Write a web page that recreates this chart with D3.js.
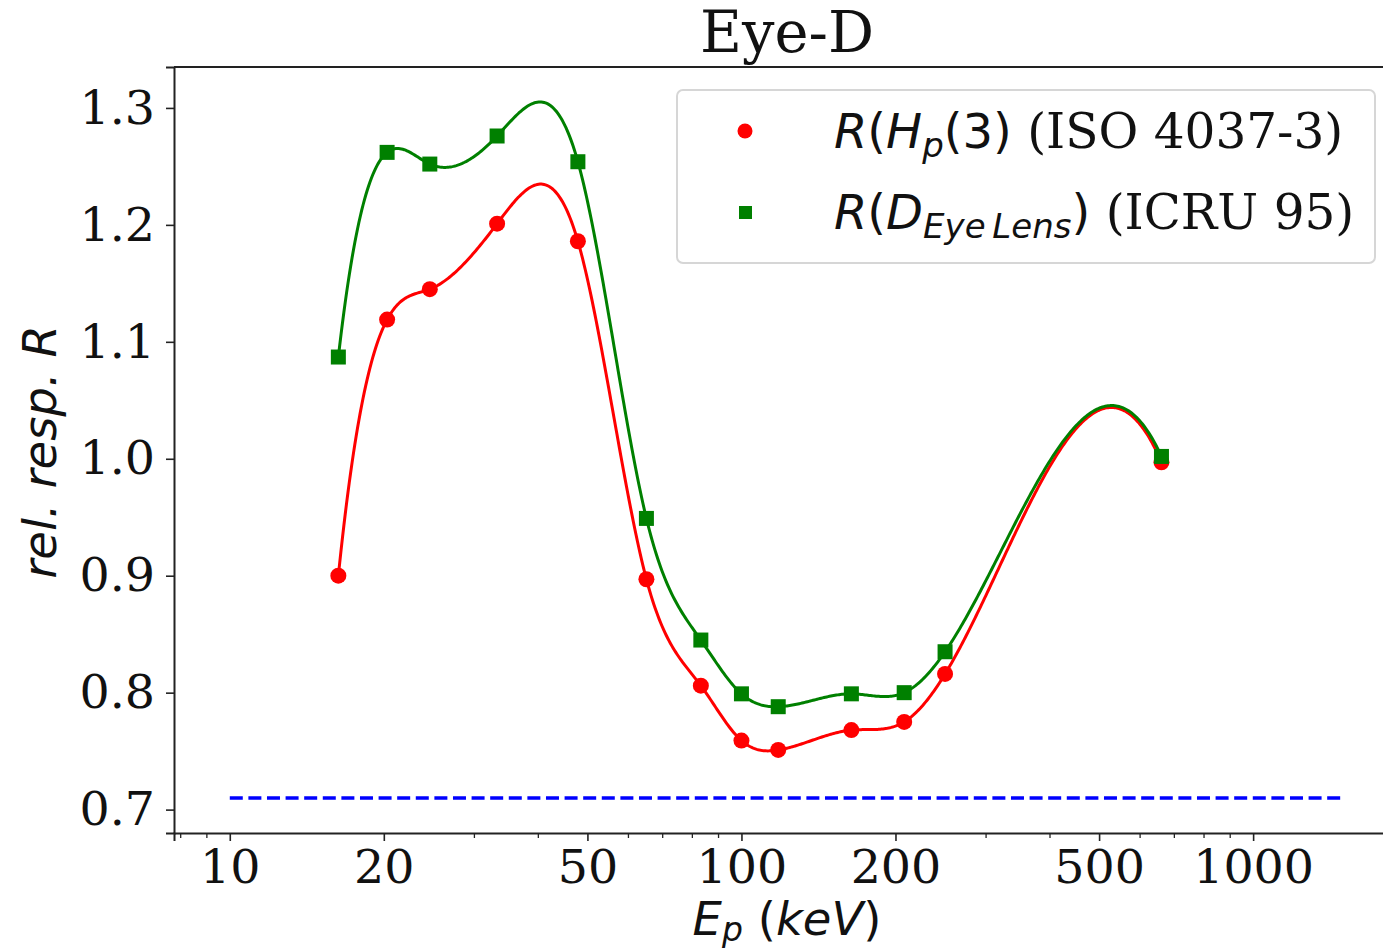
<!DOCTYPE html>
<html>
<head>
<meta charset="utf-8">
<script src="https://cdn.jsdelivr.net/npm/d3@7"></script>
<style>
html, body { margin: 0; padding: 0; background: #fff; overflow: hidden; }
svg { display: block; }
</style>
</head>
<body>
<svg id="chart" width="1383" height="951"></svg>
<script>
// ---- data ----
const energies = [16.3, 20.3, 24.6, 33.3, 47.9, 65.2, 83.3, 100, 118, 164, 208, 250, 662];
const hp3      = [0.900, 1.119, 1.145, 1.201, 1.186, 0.897, 0.806, 0.759, 0.751, 0.768, 0.775, 0.816, 0.997];
const eyeLens  = [1.087, 1.262, 1.252, 1.276, 1.254, 0.949, 0.845, 0.799, 0.788, 0.799, 0.800, 0.835, 1.002];
const refLineX = [10, 1500];
const refLineY = 0.71;
const xTickValues = [10, 20, 50, 100, 200, 500, 1000];
const yTickValues = [0.7, 0.8, 0.9, 1.0, 1.1, 1.2, 1.3];
const titleText = "Eye-D";

const svg = d3.select("#chart");
const SERIF = "'DejaVu Serif', 'Liberation Serif', serif";
const SANS = "'DejaVu Sans', 'Liberation Sans', sans-serif";

const x = d3.scaleLog().domain([7.78, 1928]).range([174, 1399]);
const y = d3.scaleLinear().domain([0.680, 1.335]).range([833, 67]);

// not-a-knot cubic spline (in log10(E) space)
function spline(xs, ys) {
  const n = xs.length;
  const h = [];
  for (let i = 0; i < n - 1; i++) h.push(xs[i + 1] - xs[i]);
  const A = Array.from({length: n}, () => new Array(n).fill(0));
  const b = new Array(n).fill(0);
  A[0][0] = -h[1]; A[0][1] = h[0] + h[1]; A[0][2] = -h[0];
  for (let i = 1; i < n - 1; i++) {
    A[i][i - 1] = h[i - 1];
    A[i][i] = 2 * (h[i - 1] + h[i]);
    A[i][i + 1] = h[i];
    b[i] = 6 * ((ys[i + 1] - ys[i]) / h[i] - (ys[i] - ys[i - 1]) / h[i - 1]);
  }
  const m = n - 1;
  A[m][m - 2] = -h[m - 1]; A[m][m - 1] = h[m - 2] + h[m - 1]; A[m][m] = -h[m - 2];
  for (let c = 0; c < n; c++) {
    let p = c;
    for (let r = c + 1; r < n; r++) if (Math.abs(A[r][c]) > Math.abs(A[p][c])) p = r;
    [A[c], A[p]] = [A[p], A[c]]; [b[c], b[p]] = [b[p], b[c]];
    for (let r = c + 1; r < n; r++) {
      const f = A[r][c] / A[c][c];
      for (let k = c; k < n; k++) A[r][k] -= f * A[c][k];
      b[r] -= f * b[c];
    }
  }
  const M = new Array(n).fill(0);
  for (let r = n - 1; r >= 0; r--) {
    let s = b[r];
    for (let k = r + 1; k < n; k++) s -= A[r][k] * M[k];
    M[r] = s / A[r][r];
  }
  return function(t) {
    let i = 0;
    while (i < n - 2 && t > xs[i + 1]) i++;
    const hi = h[i], a = xs[i + 1] - t, bb = t - xs[i];
    return M[i] * a * a * a / (6 * hi) + M[i + 1] * bb * bb * bb / (6 * hi)
      + (ys[i] / hi - M[i] * hi / 6) * a + (ys[i + 1] / hi - M[i + 1] * hi / 6) * bb;
  };
}

function curvePoints(ys) {
  const xs = energies.map(Math.log10);
  const f = spline(xs, ys);
  const pts = [];
  const N = 600;
  const u0 = xs[0], u1 = xs[xs.length - 1];
  for (let k = 0; k <= N; k++) {
    const u = u0 + (u1 - u0) * k / N;
    pts.push([x(Math.pow(10, u)), y(f(u))]);
  }
  return pts;
}

const line = d3.line();

// reference dashed line
svg.append("line")
  .attr("x1", x(refLineX[0])).attr("x2", x(refLineX[1]))
  .attr("y1", y(refLineY)).attr("y2", y(refLineY))
  .attr("stroke", "#0000ff").attr("stroke-width", 3.5)
  .attr("stroke-dasharray", "13,5.6");

const series = [
  {vals: hp3, color: "#ff0000", marker: "circle"},
  {vals: eyeLens, color: "#008000", marker: "square"}
];

series.forEach(s => {
  svg.append("path").attr("d", line(curvePoints(s.vals)))
    .attr("fill", "none").attr("stroke", s.color).attr("stroke-width", 3);
  const g = svg.append("g");
  energies.forEach((e, i) => {
    if (s.marker === "circle") {
      g.append("circle").attr("cx", x(e)).attr("cy", y(s.vals[i])).attr("r", 8).attr("fill", s.color);
    } else {
      g.append("rect").attr("x", x(e) - 7.5).attr("y", y(s.vals[i]) - 7.5)
        .attr("width", 15).attr("height", 15).attr("fill", s.color);
    }
  });
});

// axes
const xAxis = d3.axisBottom(x).tickValues(xTickValues).tickFormat(d3.format("d")).tickSize(8).tickPadding(8);
const gx = svg.append("g").attr("transform", "translate(0,833)").call(xAxis);
gx.select(".domain").attr("stroke", "#222").attr("stroke-width", 2);
gx.selectAll(".tick line").attr("stroke", "#222").attr("stroke-width", 1.6);
gx.selectAll(".tick text").attr("font-family", SERIF).attr("font-size", 47.5).attr("fill", "#111");

const minorVals = [];
[1, 10, 100, 1000].forEach(d => { for (let k = 1; k <= 9; k++) { const v = d * k; if (v >= 7.78 && v <= 1928 && !xTickValues.includes(v)) minorVals.push(v); } });
const xMinor = d3.axisBottom(x).tickValues(minorVals).tickFormat("").tickSize(5);
const gxm = svg.append("g").attr("transform", "translate(0,833)").call(xMinor);
gxm.select(".domain").remove();
gxm.selectAll(".tick line").attr("stroke", "#222").attr("stroke-width", 1.3);

const yAxis = d3.axisLeft(y).tickValues(yTickValues).tickFormat(d3.format(".1f")).tickSize(8).tickPadding(11);
const gy = svg.append("g").attr("transform", "translate(174,0)").call(yAxis);
gy.select(".domain").attr("stroke", "#222").attr("stroke-width", 2);
gy.selectAll(".tick line").attr("stroke", "#222").attr("stroke-width", 1.6);
gy.selectAll(".tick text").attr("font-family", SERIF).attr("font-size", 47.5).attr("fill", "#111");

// top spine
svg.append("line").attr("x1", 174).attr("x2", 1399).attr("y1", 67).attr("y2", 67)
  .attr("stroke", "#222").attr("stroke-width", 2);

// title
svg.append("text").attr("x", 787).attr("y", 52).attr("text-anchor", "middle")
  .attr("font-family", SERIF).attr("font-size", 57.5).attr("fill", "#111").text(titleText);

// x label
const xl = svg.append("text").attr("x", 787).attr("y", 935).attr("text-anchor", "middle")
  .attr("font-family", SANS).attr("font-size", 46.5).attr("fill", "#111");
xl.append("tspan").attr("font-style", "italic").text("E");
xl.append("tspan").attr("font-style", "italic").attr("font-size", 33).attr("dy", 6).text("p");
xl.append("tspan").attr("dy", -6).text(" (");
xl.append("tspan").attr("font-style", "italic").text("keV");
xl.append("tspan").text(")");

// y label
svg.append("text").attr("transform", "translate(56,452) rotate(-90)").attr("text-anchor", "middle")
  .attr("font-family", SANS).attr("font-size", 46.5).attr("font-style", "italic").attr("fill", "#111")
  .text("rel. resp. R");

// legend
const lg = svg.append("g");
lg.append("rect").attr("x", 677).attr("y", 90).attr("width", 698).attr("height", 173)
  .attr("rx", 6).attr("fill", "#fff").attr("fill-opacity", 0.8).attr("stroke", "#d6d6d6").attr("stroke-width", 2);
lg.append("circle").attr("cx", 745).attr("cy", 131).attr("r", 7.5).attr("fill", "#ff0000");
lg.append("rect").attr("x", 739).attr("y", 206).attr("width", 13).attr("height", 13).attr("fill", "#008000");

const t1 = lg.append("text").attr("x", 834).attr("y", 148).attr("font-size", 48).attr("fill", "#111").attr("font-family", SANS);
t1.append("tspan").attr("font-style", "italic").text("R");
t1.append("tspan").text("(");
t1.append("tspan").attr("font-style", "italic").text("H");
t1.append("tspan").attr("font-style", "italic").attr("font-size", 34).attr("dy", 9).text("p");
t1.append("tspan").attr("dy", -9).text("(3)");
t1.append("tspan").attr("font-family", SERIF).attr("font-size", 48.5).text(" (ISO 4037-3)");

const t2 = lg.append("text").attr("x", 834).attr("y", 229).attr("font-size", 48).attr("fill", "#111").attr("font-family", SANS);
t2.append("tspan").attr("font-style", "italic").text("R");
t2.append("tspan").text("(");
t2.append("tspan").attr("font-style", "italic").text("D");
t2.append("tspan").attr("font-style", "italic").attr("font-size", 34).attr("dy", 9).text("Eye\u2009Lens");
t2.append("tspan").attr("dy", -9).text(")");
t2.append("tspan").attr("font-family", SERIF).attr("font-size", 48.5).text(" (ICRU 95)");
</script>
</body>
</html>
